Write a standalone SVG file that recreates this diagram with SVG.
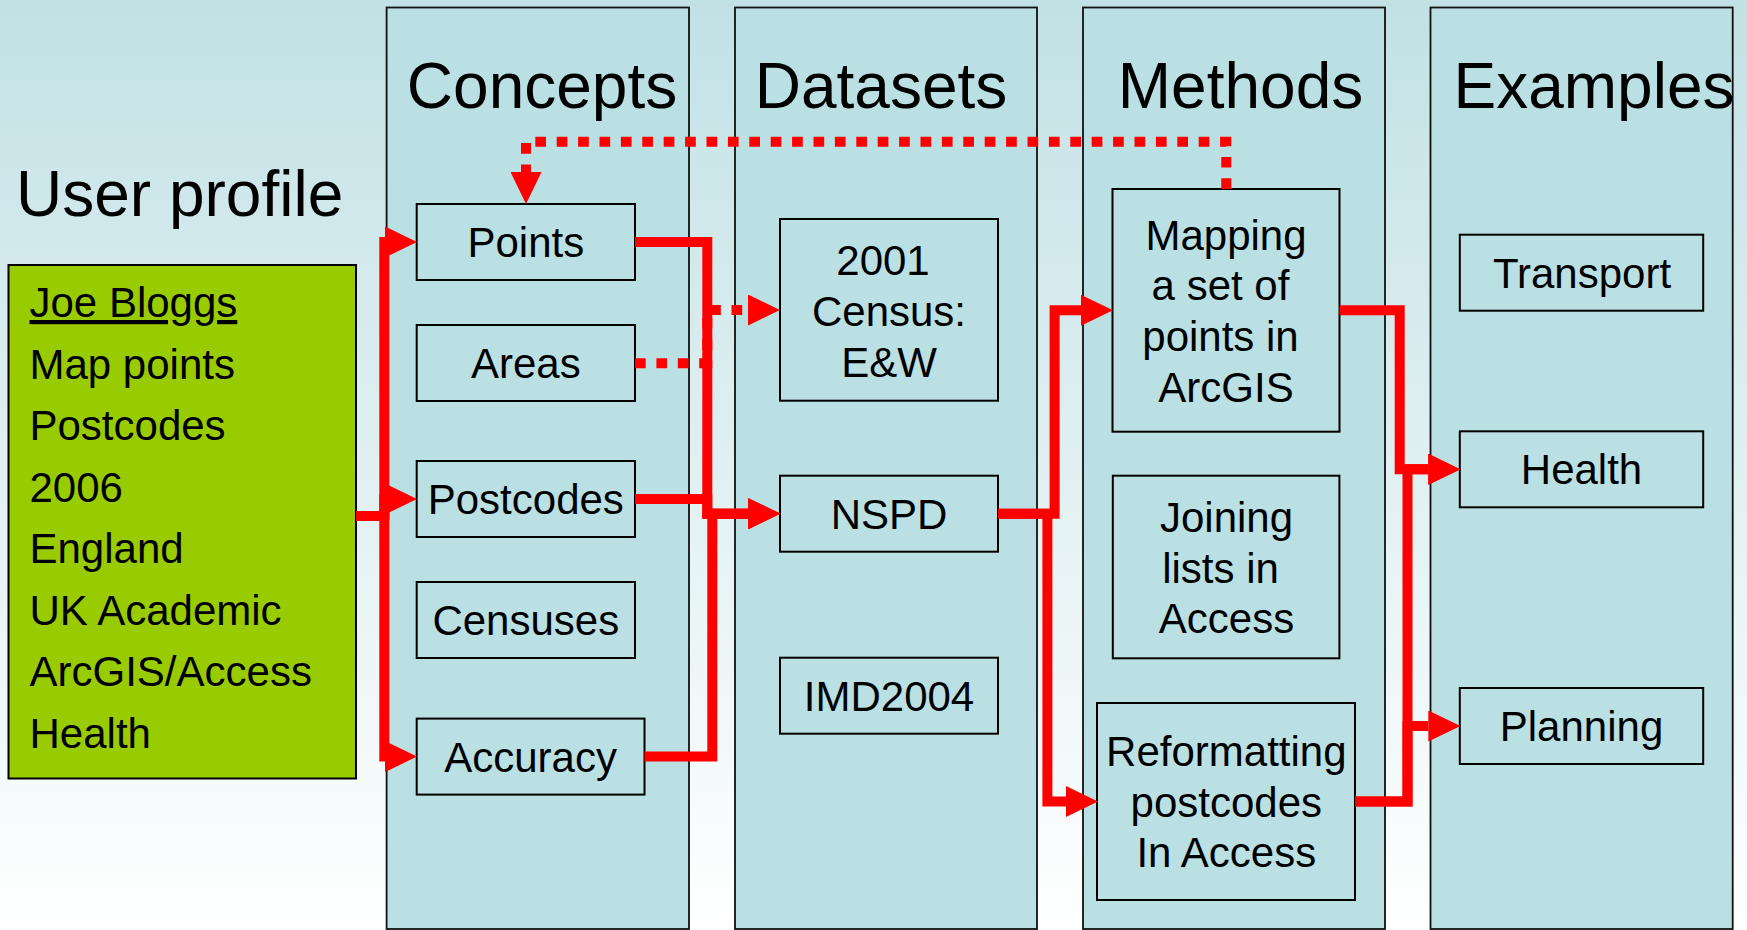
<svg xmlns="http://www.w3.org/2000/svg" width="1747" height="930" viewBox="0 0 1747 930">
<defs>
<linearGradient id="bg" x1="0" y1="0" x2="0" y2="1">
<stop offset="0" stop-color="#c2e1e5"/>
<stop offset="1" stop-color="#ffffff"/>
</linearGradient>
<marker id="ah" markerUnits="userSpaceOnUse" markerWidth="32" markerHeight="31" viewBox="0 0 32 31" refX="0" refY="15.5" orient="auto">
<path d="M0 0 L32 15.5 L0 31 Z" fill="#ff0000"/>
</marker>
<style>
.col{fill:#bbe0e3;stroke:#111;stroke-width:1.8}
.box{fill:#bbe0e3;stroke:#000;stroke-width:2}
.hd{font-family:"Liberation Sans",Arial,sans-serif;font-size:64px;fill:#000;text-anchor:middle}
.t{font-family:"Liberation Sans",Arial,sans-serif;font-size:42px;fill:#000;text-anchor:middle}
.g{font-family:"Liberation Sans",Arial,sans-serif;font-size:42px;fill:#000}
.solid{fill:none;stroke:#ff0000;stroke-width:10;stroke-linejoin:miter;stroke-linecap:butt;marker-end:url(#ah)}
.dot{fill:none;stroke:#ff0000;stroke-width:10;stroke-linejoin:miter;stroke-linecap:butt;stroke-dasharray:10.7 10.7;marker-end:url(#ah)}
</style>
</defs>
<rect x="0" y="0" width="1747" height="930" fill="url(#bg)"/>

<g id="columns">
<rect class="col" x="386.6" y="7.5" width="302.4" height="921.5"/>
<rect class="col" x="735" y="7.5" width="302" height="921.5"/>
<rect class="col" x="1083" y="7.5" width="302" height="921.5"/>
<rect class="col" x="1430.5" y="7.5" width="302.2" height="921.5"/>
</g>

<g id="headers">
<text class="hd" x="542" y="108">Concepts</text>
<text class="hd" x="881" y="108">Datasets</text>
<text class="hd" x="1240.5" y="108">Methods</text>
<text class="hd" x="1594" y="108">Examples</text>
<text class="hd" x="16" y="216" style="text-anchor:start">User profile</text>
</g>

<g id="profile">
<rect x="8.5" y="265" width="347.5" height="513.5" fill="#99cc00" stroke="#000" stroke-width="2"/>
<text class="g" x="29.5" y="317" text-decoration="underline">Joe Bloggs</text>
<text class="g" x="29.5" y="378.5">Map points</text>
<text class="g" x="29.5" y="440">Postcodes</text>
<text class="g" x="29.5" y="501.5">2006</text>
<text class="g" x="29.5" y="563">England</text>
<text class="g" x="29.5" y="624.5">UK Academic</text>
<text class="g" x="29.5" y="686">ArcGIS/Access</text>
<text class="g" x="29.5" y="747.5">Health</text>
</g>

<g id="points"><rect class="box" x="416.7" y="204" width="218.3" height="76"/><text class="t" x="525.8" y="257">Points</text></g>
<g id="areas"><rect class="box" x="416.7" y="325" width="218.3" height="76"/><text class="t" x="525.8" y="378">Areas</text></g>
<g id="postcodes"><rect class="box" x="416.7" y="461" width="218.3" height="76"/><text class="t" x="525.8" y="514">Postcodes</text></g>
<g id="censuses"><rect class="box" x="416.7" y="582" width="218.3" height="76"/><text class="t" x="525.8" y="635">Censuses</text></g>
<g id="accuracy"><rect class="box" x="416.7" y="718.6" width="227.8" height="76"/><text class="t" x="530.6" y="771.6">Accuracy</text></g>

<g id="census2001"><rect class="box" x="780" y="219" width="218" height="181.7"/>
<text class="t" x="883" y="275">2001</text><text class="t" x="889" y="325.5">Census:</text><text class="t" x="889" y="376.5">E&amp;W</text></g>
<g id="nspd"><rect class="box" x="780" y="475.7" width="218" height="76"/><text class="t" x="889" y="529">NSPD</text></g>
<g id="imd2004"><rect class="box" x="780" y="657.7" width="218" height="76"/><text class="t" x="889" y="711">IMD2004</text></g>

<g id="mapping"><rect class="box" x="1112.5" y="189" width="227" height="242.7"/>
<text class="t" x="1226" y="249.5">Mapping</text><text class="t" x="1220.5" y="300.3">a set of</text><text class="t" x="1220.5" y="351">points in</text><text class="t" x="1226" y="401.7">ArcGIS</text></g>
<g id="joining"><rect class="box" x="1112.8" y="475.7" width="226.6" height="182.6"/>
<text class="t" x="1226.5" y="532">Joining</text><text class="t" x="1220.5" y="582.7">lists in</text><text class="t" x="1226.5" y="633.3">Access</text></g>
<g id="reformatting"><rect class="box" x="1097" y="703" width="258" height="197"/>
<text class="t" x="1226.3" y="766">Reformatting</text><text class="t" x="1226.3" y="816.7">postcodes</text><text class="t" x="1226.3" y="867.3">In Access</text></g>

<g id="transport"><rect class="box" x="1459.8" y="234.7" width="243.4" height="76"/><text class="t" x="1582" y="287.5">Transport</text></g>
<g id="health"><rect class="box" x="1459.8" y="431.3" width="243.4" height="76"/><text class="t" x="1581.5" y="484.3">Health</text></g>
<g id="planning"><rect class="box" x="1459.8" y="688" width="243.4" height="76"/><text class="t" x="1581.5" y="741">Planning</text></g>

<g id="connectors">
<path class="dot" d="M635 363.3 H707.3 V310 H748"/>
<path class="dot" d="M1226.3 189 V141.7 H526 V172"/>
<path class="solid" d="M356 516 H384.3 V242 H385"/>
<path class="solid" d="M356 516 H384.3 V499 H385"/>
<path class="solid" d="M356 516 H384.3 V756.6 H385"/>
<path class="solid" d="M635 242 H707.3 V513.7 H748.3"/>
<path class="solid" d="M635 499 H707.3 V513.7 H748.3"/>
<path class="solid" d="M644.5 756.6 H712.3 V513.7 H748.3"/>
<path class="solid" d="M998 513.7 H1054.6 V310.3 H1081"/>
<path class="solid" d="M998 513.7 H1047.4 V801.5 H1066"/>
<path class="solid" d="M1339.5 310.3 H1399.7 V469.3 H1428.3"/>
<path class="solid" d="M1355 801.5 H1407.5 V469.3 H1428.3"/>
<path class="solid" d="M1355 801.5 H1407.5 V726 H1428.3"/>
</g>
</svg>
